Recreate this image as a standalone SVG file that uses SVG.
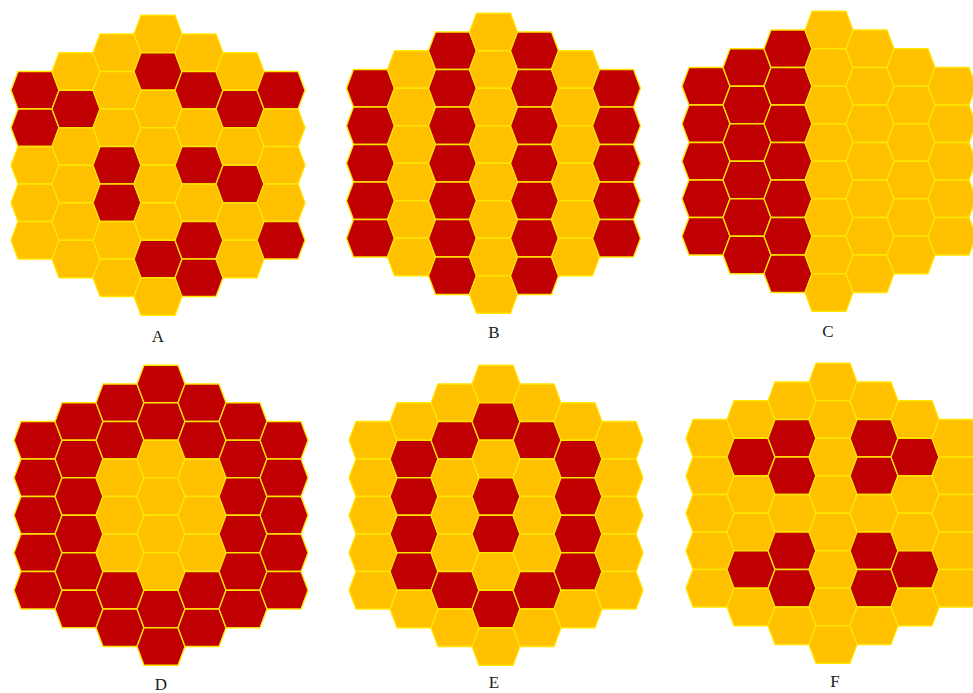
<svg xmlns="http://www.w3.org/2000/svg" xmlns:xlink="http://www.w3.org/1999/xlink" width="973" height="693" viewBox="0 0 973 693">
<style>
.r{fill:#C00000}
.y{fill:#FFC000}
.lbl{font-family:"Liberation Serif","DejaVu Serif",serif;font-size:17px;fill:#1a1a1a;text-anchor:middle}
</style>
<defs>
<polygon id="h" points="-24,0 -17,-18.75 17,-18.75 24,0 17,18.75 -17,18.75" stroke="#FFE600" stroke-width="1.3" stroke-linejoin="round"/>
</defs>
<rect width="973" height="693" fill="#ffffff"/>
<g id="panelA" transform="translate(158,34)">
<use href="#h" class="r" x="-123" y="56.25"/><use href="#h" class="r" x="-123" y="93.75"/><use href="#h" class="y" x="-123" y="131.25"/><use href="#h" class="y" x="-123" y="168.75"/><use href="#h" class="y" x="-123" y="206.25"/>
<use href="#h" class="y" x="-82" y="37.5"/><use href="#h" class="r" x="-82" y="75"/><use href="#h" class="y" x="-82" y="112.5"/><use href="#h" class="y" x="-82" y="150"/><use href="#h" class="y" x="-82" y="187.5"/><use href="#h" class="y" x="-82" y="225"/>
<use href="#h" class="y" x="-41" y="18.75"/><use href="#h" class="y" x="-41" y="56.25"/><use href="#h" class="y" x="-41" y="93.75"/><use href="#h" class="r" x="-41" y="131.25"/><use href="#h" class="r" x="-41" y="168.75"/><use href="#h" class="y" x="-41" y="206.25"/><use href="#h" class="y" x="-41" y="243.75"/>
<use href="#h" class="y" x="0" y="0"/><use href="#h" class="r" x="0" y="37.5"/><use href="#h" class="y" x="0" y="75"/><use href="#h" class="y" x="0" y="112.5"/><use href="#h" class="y" x="0" y="150"/><use href="#h" class="y" x="0" y="187.5"/><use href="#h" class="r" x="0" y="225"/><use href="#h" class="y" x="0" y="262.5"/>
<use href="#h" class="y" x="41" y="18.75"/><use href="#h" class="r" x="41" y="56.25"/><use href="#h" class="y" x="41" y="93.75"/><use href="#h" class="r" x="41" y="131.25"/><use href="#h" class="y" x="41" y="168.75"/><use href="#h" class="r" x="41" y="206.25"/><use href="#h" class="r" x="41" y="243.75"/>
<use href="#h" class="y" x="82" y="37.5"/><use href="#h" class="r" x="82" y="75"/><use href="#h" class="y" x="82" y="112.5"/><use href="#h" class="r" x="82" y="150"/><use href="#h" class="y" x="82" y="187.5"/><use href="#h" class="y" x="82" y="225"/>
<use href="#h" class="r" x="123" y="56.25"/><use href="#h" class="y" x="123" y="93.75"/><use href="#h" class="y" x="123" y="131.25"/><use href="#h" class="y" x="123" y="168.75"/><use href="#h" class="r" x="123" y="206.25"/>
</g>
<g id="panelB" transform="translate(493.5,32)">
<use href="#h" class="r" x="-123" y="56.25"/><use href="#h" class="r" x="-123" y="93.75"/><use href="#h" class="r" x="-123" y="131.25"/><use href="#h" class="r" x="-123" y="168.75"/><use href="#h" class="r" x="-123" y="206.25"/>
<use href="#h" class="y" x="-82" y="37.5"/><use href="#h" class="y" x="-82" y="75"/><use href="#h" class="y" x="-82" y="112.5"/><use href="#h" class="y" x="-82" y="150"/><use href="#h" class="y" x="-82" y="187.5"/><use href="#h" class="y" x="-82" y="225"/>
<use href="#h" class="r" x="-41" y="18.75"/><use href="#h" class="r" x="-41" y="56.25"/><use href="#h" class="r" x="-41" y="93.75"/><use href="#h" class="r" x="-41" y="131.25"/><use href="#h" class="r" x="-41" y="168.75"/><use href="#h" class="r" x="-41" y="206.25"/><use href="#h" class="r" x="-41" y="243.75"/>
<use href="#h" class="y" x="0" y="0"/><use href="#h" class="y" x="0" y="37.5"/><use href="#h" class="y" x="0" y="75"/><use href="#h" class="y" x="0" y="112.5"/><use href="#h" class="y" x="0" y="150"/><use href="#h" class="y" x="0" y="187.5"/><use href="#h" class="y" x="0" y="225"/><use href="#h" class="y" x="0" y="262.5"/>
<use href="#h" class="r" x="41" y="18.75"/><use href="#h" class="r" x="41" y="56.25"/><use href="#h" class="r" x="41" y="93.75"/><use href="#h" class="r" x="41" y="131.25"/><use href="#h" class="r" x="41" y="168.75"/><use href="#h" class="r" x="41" y="206.25"/><use href="#h" class="r" x="41" y="243.75"/>
<use href="#h" class="y" x="82" y="37.5"/><use href="#h" class="y" x="82" y="75"/><use href="#h" class="y" x="82" y="112.5"/><use href="#h" class="y" x="82" y="150"/><use href="#h" class="y" x="82" y="187.5"/><use href="#h" class="y" x="82" y="225"/>
<use href="#h" class="r" x="123" y="56.25"/><use href="#h" class="r" x="123" y="93.75"/><use href="#h" class="r" x="123" y="131.25"/><use href="#h" class="r" x="123" y="168.75"/><use href="#h" class="r" x="123" y="206.25"/>
</g>
<g id="panelC" transform="translate(829,30)">
<use href="#h" class="r" x="-123" y="56.25"/><use href="#h" class="r" x="-123" y="93.75"/><use href="#h" class="r" x="-123" y="131.25"/><use href="#h" class="r" x="-123" y="168.75"/><use href="#h" class="r" x="-123" y="206.25"/>
<use href="#h" class="r" x="-82" y="37.5"/><use href="#h" class="r" x="-82" y="75"/><use href="#h" class="r" x="-82" y="112.5"/><use href="#h" class="r" x="-82" y="150"/><use href="#h" class="r" x="-82" y="187.5"/><use href="#h" class="r" x="-82" y="225"/>
<use href="#h" class="r" x="-41" y="18.75"/><use href="#h" class="r" x="-41" y="56.25"/><use href="#h" class="r" x="-41" y="93.75"/><use href="#h" class="r" x="-41" y="131.25"/><use href="#h" class="r" x="-41" y="168.75"/><use href="#h" class="r" x="-41" y="206.25"/><use href="#h" class="r" x="-41" y="243.75"/>
<use href="#h" class="y" x="0" y="0"/><use href="#h" class="y" x="0" y="37.5"/><use href="#h" class="y" x="0" y="75"/><use href="#h" class="y" x="0" y="112.5"/><use href="#h" class="y" x="0" y="150"/><use href="#h" class="y" x="0" y="187.5"/><use href="#h" class="y" x="0" y="225"/><use href="#h" class="y" x="0" y="262.5"/>
<use href="#h" class="y" x="41" y="18.75"/><use href="#h" class="y" x="41" y="56.25"/><use href="#h" class="y" x="41" y="93.75"/><use href="#h" class="y" x="41" y="131.25"/><use href="#h" class="y" x="41" y="168.75"/><use href="#h" class="y" x="41" y="206.25"/><use href="#h" class="y" x="41" y="243.75"/>
<use href="#h" class="y" x="82" y="37.5"/><use href="#h" class="y" x="82" y="75"/><use href="#h" class="y" x="82" y="112.5"/><use href="#h" class="y" x="82" y="150"/><use href="#h" class="y" x="82" y="187.5"/><use href="#h" class="y" x="82" y="225"/>
<use href="#h" class="y" x="123" y="56.25"/><use href="#h" class="y" x="123" y="93.75"/><use href="#h" class="y" x="123" y="131.25"/><use href="#h" class="y" x="123" y="168.75"/><use href="#h" class="y" x="123" y="206.25"/>
</g>
<g id="panelD" transform="translate(161,384)">
<use href="#h" class="r" x="-123" y="56.25"/><use href="#h" class="r" x="-123" y="93.75"/><use href="#h" class="r" x="-123" y="131.25"/><use href="#h" class="r" x="-123" y="168.75"/><use href="#h" class="r" x="-123" y="206.25"/>
<use href="#h" class="r" x="-82" y="37.5"/><use href="#h" class="r" x="-82" y="75"/><use href="#h" class="r" x="-82" y="112.5"/><use href="#h" class="r" x="-82" y="150"/><use href="#h" class="r" x="-82" y="187.5"/><use href="#h" class="r" x="-82" y="225"/>
<use href="#h" class="r" x="-41" y="18.75"/><use href="#h" class="r" x="-41" y="56.25"/><use href="#h" class="y" x="-41" y="93.75"/><use href="#h" class="y" x="-41" y="131.25"/><use href="#h" class="y" x="-41" y="168.75"/><use href="#h" class="r" x="-41" y="206.25"/><use href="#h" class="r" x="-41" y="243.75"/>
<use href="#h" class="r" x="0" y="0"/><use href="#h" class="r" x="0" y="37.5"/><use href="#h" class="y" x="0" y="75"/><use href="#h" class="y" x="0" y="112.5"/><use href="#h" class="y" x="0" y="150"/><use href="#h" class="y" x="0" y="187.5"/><use href="#h" class="r" x="0" y="225"/><use href="#h" class="r" x="0" y="262.5"/>
<use href="#h" class="r" x="41" y="18.75"/><use href="#h" class="r" x="41" y="56.25"/><use href="#h" class="y" x="41" y="93.75"/><use href="#h" class="y" x="41" y="131.25"/><use href="#h" class="y" x="41" y="168.75"/><use href="#h" class="r" x="41" y="206.25"/><use href="#h" class="r" x="41" y="243.75"/>
<use href="#h" class="r" x="82" y="37.5"/><use href="#h" class="r" x="82" y="75"/><use href="#h" class="r" x="82" y="112.5"/><use href="#h" class="r" x="82" y="150"/><use href="#h" class="r" x="82" y="187.5"/><use href="#h" class="r" x="82" y="225"/>
<use href="#h" class="r" x="123" y="56.25"/><use href="#h" class="r" x="123" y="93.75"/><use href="#h" class="r" x="123" y="131.25"/><use href="#h" class="r" x="123" y="168.75"/><use href="#h" class="r" x="123" y="206.25"/>
</g>
<g id="panelE" transform="translate(496,384)">
<use href="#h" class="y" x="-123" y="56.25"/><use href="#h" class="y" x="-123" y="93.75"/><use href="#h" class="y" x="-123" y="131.25"/><use href="#h" class="y" x="-123" y="168.75"/><use href="#h" class="y" x="-123" y="206.25"/>
<use href="#h" class="y" x="-82" y="37.5"/><use href="#h" class="r" x="-82" y="75"/><use href="#h" class="r" x="-82" y="112.5"/><use href="#h" class="r" x="-82" y="150"/><use href="#h" class="r" x="-82" y="187.5"/><use href="#h" class="y" x="-82" y="225"/>
<use href="#h" class="y" x="-41" y="18.75"/><use href="#h" class="r" x="-41" y="56.25"/><use href="#h" class="y" x="-41" y="93.75"/><use href="#h" class="y" x="-41" y="131.25"/><use href="#h" class="y" x="-41" y="168.75"/><use href="#h" class="r" x="-41" y="206.25"/><use href="#h" class="y" x="-41" y="243.75"/>
<use href="#h" class="y" x="0" y="0"/><use href="#h" class="r" x="0" y="37.5"/><use href="#h" class="y" x="0" y="75"/><use href="#h" class="r" x="0" y="112.5"/><use href="#h" class="r" x="0" y="150"/><use href="#h" class="y" x="0" y="187.5"/><use href="#h" class="r" x="0" y="225"/><use href="#h" class="y" x="0" y="262.5"/>
<use href="#h" class="y" x="41" y="18.75"/><use href="#h" class="r" x="41" y="56.25"/><use href="#h" class="y" x="41" y="93.75"/><use href="#h" class="y" x="41" y="131.25"/><use href="#h" class="y" x="41" y="168.75"/><use href="#h" class="r" x="41" y="206.25"/><use href="#h" class="y" x="41" y="243.75"/>
<use href="#h" class="y" x="82" y="37.5"/><use href="#h" class="r" x="82" y="75"/><use href="#h" class="r" x="82" y="112.5"/><use href="#h" class="r" x="82" y="150"/><use href="#h" class="r" x="82" y="187.5"/><use href="#h" class="y" x="82" y="225"/>
<use href="#h" class="y" x="123" y="56.25"/><use href="#h" class="y" x="123" y="93.75"/><use href="#h" class="y" x="123" y="131.25"/><use href="#h" class="y" x="123" y="168.75"/><use href="#h" class="y" x="123" y="206.25"/>
</g>
<g id="panelF" transform="translate(833,382)">
<use href="#h" class="y" x="-123" y="56.25"/><use href="#h" class="y" x="-123" y="93.75"/><use href="#h" class="y" x="-123" y="131.25"/><use href="#h" class="y" x="-123" y="168.75"/><use href="#h" class="y" x="-123" y="206.25"/>
<use href="#h" class="y" x="-82" y="37.5"/><use href="#h" class="r" x="-82" y="75"/><use href="#h" class="y" x="-82" y="112.5"/><use href="#h" class="y" x="-82" y="150"/><use href="#h" class="r" x="-82" y="187.5"/><use href="#h" class="y" x="-82" y="225"/>
<use href="#h" class="y" x="-41" y="18.75"/><use href="#h" class="r" x="-41" y="56.25"/><use href="#h" class="r" x="-41" y="93.75"/><use href="#h" class="y" x="-41" y="131.25"/><use href="#h" class="r" x="-41" y="168.75"/><use href="#h" class="r" x="-41" y="206.25"/><use href="#h" class="y" x="-41" y="243.75"/>
<use href="#h" class="y" x="0" y="0"/><use href="#h" class="y" x="0" y="37.5"/><use href="#h" class="y" x="0" y="75"/><use href="#h" class="y" x="0" y="112.5"/><use href="#h" class="y" x="0" y="150"/><use href="#h" class="y" x="0" y="187.5"/><use href="#h" class="y" x="0" y="225"/><use href="#h" class="y" x="0" y="262.5"/>
<use href="#h" class="y" x="41" y="18.75"/><use href="#h" class="r" x="41" y="56.25"/><use href="#h" class="r" x="41" y="93.75"/><use href="#h" class="y" x="41" y="131.25"/><use href="#h" class="r" x="41" y="168.75"/><use href="#h" class="r" x="41" y="206.25"/><use href="#h" class="y" x="41" y="243.75"/>
<use href="#h" class="y" x="82" y="37.5"/><use href="#h" class="r" x="82" y="75"/><use href="#h" class="y" x="82" y="112.5"/><use href="#h" class="y" x="82" y="150"/><use href="#h" class="r" x="82" y="187.5"/><use href="#h" class="y" x="82" y="225"/>
<use href="#h" class="y" x="123" y="56.25"/><use href="#h" class="y" x="123" y="93.75"/><use href="#h" class="y" x="123" y="131.25"/><use href="#h" class="y" x="123" y="168.75"/><use href="#h" class="y" x="123" y="206.25"/>
</g>
<g id="labels">
<text class="lbl" x="158" y="342">A</text>
<text class="lbl" x="494" y="338">B</text>
<text class="lbl" x="828" y="337">C</text>
<text class="lbl" x="161" y="690">D</text>
<text class="lbl" x="494" y="688">E</text>
<text class="lbl" x="835" y="687">F</text>
</g>
</svg>
